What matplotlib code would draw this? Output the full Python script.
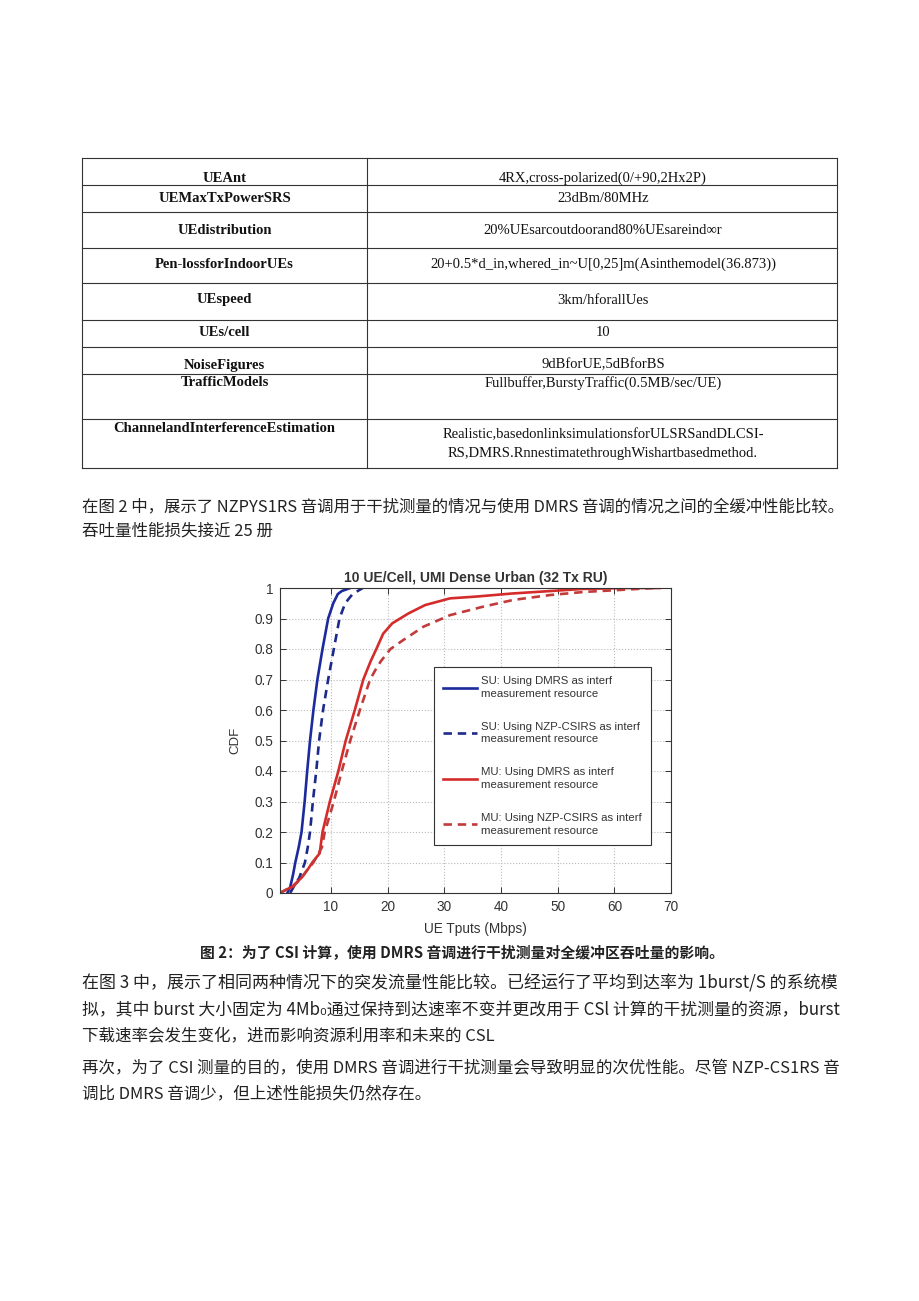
import matplotlib
matplotlib.use('Agg')
import matplotlib.pyplot as plt

# ---------------- table content ----------------
row_labels = ["UEAnt", "UEMaxTxPowerSRS", "UEdistribution", "Pen-lossforIndoorUEs",
              "UEspeed", "UEs/cell", "NoiseFigures", "TrafficModels",
              "ChannelandInterferenceEstimation"]
row_values = ["4RX,cross-polarized(0/+90,2Hx2P)", "23dBm/80MHz",
              "20%UEsarcoutdoorand80%UEsareind∞r",
              "20+0.5*d_in,whered_in~U[0,25]m(Asinthemodel(36.873))",
              "3km/hforallUes", "10", "9dBforUE,5dBforBS",
              "Fullbuffer,BurstyTraffic(0.5MB/sec/UE)",
              "Realistic,basedonlinksimulationsforULSRSandDLCSI-\nRS,DMRS.RnnestimatethroughWishartbasedmethod."]

para1 = ["在图 2 中，展示了 NZPYS1RS 音调用于干扰测量的情况与使用 DMRS 音调的情况之间的全缓冲性能比较。",
         "吞吐量性能损失接近 25 册"]
caption = "图 2：为了 CSI 计算，使用 DMRS 音调进行干扰测量对全缓冲区吞吐量的影响。"
para2 = ["在图 3 中，展示了相同两种情况下的突发流量性能比较。已经运行了平均到达率为 1burst/S 的系统模",
         "拟，其中 burst 大小固定为 4Mb₀通过保持到达速率不变并更改用于 CSl 计算的干扰测量的资源，burst",
         "下载速率会发生变化，进而影响资源利用率和未来的 CSL"]
para3 = ["再次，为了 CSI 测量的目的，使用 DMRS 音调进行干扰测量会导致明显的次优性能。尽管 NZP-CS1RS 音",
         "调比 DMRS 音调少，但上述性能损失仍然存在。"]

# ---------------- chart data ----------------
chart_title = "10 UE/Cell, UMI Dense Urban (32 Tx RU)"
x_ticks = [10, 20, 30, 40, 50, 60, 70]
y_ticks = [0, 0.1, 0.2, 0.3, 0.4, 0.5, 0.6, 0.7, 0.8, 0.9, 1.0]
y_tick_labels = ["0", "0.1", "0.2", "0.3", "0.4", "0.5", "0.6", "0.7", "0.8", "0.9", "1"]

su_dmrs_x = [2.3, 2.8, 3.3, 3.7, 4.3, 4.8, 5.35, 5.8, 6.3, 6.9, 7.6, 8.5, 9.5, 10.4, 11.2, 11.9, 13.4]
su_dmrs_y = [0.0, 0.02, 0.06, 0.10, 0.15, 0.20, 0.30, 0.40, 0.50, 0.60, 0.70, 0.80, 0.90, 0.95, 0.98, 0.99, 1.0]

su_nzp_x = [2.8, 3.4, 4.4, 5.4, 5.9, 6.3, 6.8, 7.4, 7.9, 8.6, 9.5, 10.5, 11.5, 12.5, 13.8, 15.6]
su_nzp_y = [0.0, 0.02, 0.05, 0.10, 0.15, 0.20, 0.30, 0.40, 0.50, 0.60, 0.70, 0.80, 0.90, 0.95, 0.98, 1.0]

mu_dmrs_x = [1.0, 2.0, 3.1, 4.8, 6.0, 6.7, 8.0, 8.5, 9.8, 11.3, 12.6, 14.2, 15.7, 17.0, 18.0,
             19.2, 20.8, 23.7, 26.6, 31.0, 35.7, 42.0, 48.7, 54.5, 62.0, 68.0]
mu_dmrs_y = [0.0, 0.01, 0.02, 0.05, 0.08, 0.10, 0.13, 0.20, 0.30, 0.40, 0.50, 0.60, 0.70, 0.76, 0.80,
             0.85, 0.884, 0.917, 0.944, 0.966, 0.972, 0.982, 0.99, 0.997, 1.0, 1.0]

mu_nzp_x = [1.0, 2.0, 3.3, 4.8, 6.0, 6.9, 8.4, 8.9, 10.5, 11.9, 13.4, 15.1, 16.9, 17.8, 18.8,
            20.5, 22.8, 26.3, 31.0, 36.9, 42.2, 48.7, 54.6, 60.4, 67.0]
mu_nzp_y = [0.0, 0.01, 0.02, 0.05, 0.08, 0.10, 0.15, 0.20, 0.30, 0.40, 0.50, 0.60, 0.70, 0.73, 0.76,
            0.80, 0.83, 0.873, 0.911, 0.939, 0.961, 0.977, 0.987, 0.993, 1.0]

legend_labels = ["SU: Using DMRS as interf\nmeasurement resource",
                 "SU: Using NZP-CSIRS as interf\nmeasurement resource",
                 "MU: Using DMRS as interf\nmeasurement resource",
                 "MU: Using NZP-CSIRS as interf\nmeasurement resource"]

# ---------------- figure ----------------
W, H = 920, 1301
fig = plt.figure(figsize=(W / 100, H / 100), dpi=100)
fig.patch.set_facecolor('white')

page = fig.add_axes([0, 0, 1, 1])
page.set_xlim(0, W)
page.set_ylim(H, 0)
page.axis('off')

# table geometry
t_left, t_mid, t_right = 82, 367, 837
row_lines = [158, 185, 212, 248, 283, 320, 347, 374, 419, 468]
label_y = [178, 199, 230, 264, 300, 333, 365, 383, 428]
value_y = [178, 199, 230, 264, 300, 333, 365, 383, 444]

lc = '#333333'
for y in row_lines:
    page.plot([t_left, t_right], [y, y], color=lc, lw=0.8)
for x in (t_left, t_mid, t_right):
    page.plot([x, x], [row_lines[0], row_lines[-1]], color=lc, lw=0.8)

serif = ['Liberation Serif', 'DejaVu Serif']
for lab, val, ly, vy in zip(row_labels, row_values, label_y, value_y):
    page.text((t_left + t_mid) / 2, ly, lab, ha='center', va='center',
              family=serif, fontweight='bold', fontsize=10.5, color='#111111')
    page.text((t_mid + t_right) / 2 + 1, vy, val, ha='center', va='center',
              family=serif, fontsize=10.5, color='#111111', linespacing=1.6)

cjk = ['Noto Sans CJK SC', 'DejaVu Sans']
txt_x = 82
base_fs = 11.9
renderer = fig.canvas.get_renderer()


def put_line(y, s, right=None):
    t = page.text(txt_x, y, s, ha='left', va='center', family=cjk, fontsize=base_fs,
                  color='#222222')
    if right is not None:
        w = t.get_window_extent(renderer=renderer).width
        t.set_fontsize(base_fs * (right - txt_x) / w)
    return t


put_line(507, para1[0], right=845)
put_line(531, para1[1])
page.text(462, 953, caption, ha='center', va='center', family=cjk, fontsize=10.7,
          fontweight='bold', color='#222222')
put_line(982, para2[0], right=838)
put_line(1010, para2[1], right=838)
put_line(1036, para2[2])
put_line(1068, para3[0], right=838)
put_line(1094, para3[1])

# chart axes
ax_l, ax_r, ax_t, ax_b = 280, 671, 588, 893
ax = fig.add_axes([ax_l / W, (H - ax_b) / H, (ax_r - ax_l) / W, (ax_b - ax_t) / H])
sans = ['Liberation Sans', 'DejaVu Sans']
blue = '#1c2a9e'
blue_d = '#1e2a8a'
red = '#d42b2b'
red_d = '#c23a3a'
lw = 1.9
ax.plot(su_dmrs_x, su_dmrs_y, color=blue, lw=lw, label=legend_labels[0])
ax.plot(su_nzp_x, su_nzp_y, color=blue_d, lw=lw, dashes=(3.2, 2.2), label=legend_labels[1])
ax.plot(mu_dmrs_x, mu_dmrs_y, color=red, lw=lw, label=legend_labels[2])
ax.plot(mu_nzp_x, mu_nzp_y, color=red_d, lw=lw, dashes=(3.2, 2.2), label=legend_labels[3])

ax.set_xlim(1, 70)
ax.set_ylim(0, 1)
ax.set_xticks(x_ticks)
ax.set_yticks(y_ticks)
ax.set_yticklabels(y_tick_labels)
ax.grid(True, linestyle=':', color='#bbbbbb', lw=0.8)
ax.tick_params(direction='in', length=4, width=0.7, top=True, right=True,
               colors='#333333', labelsize=9.8, pad=5)
for lab in ax.get_xticklabels() + ax.get_yticklabels():
    lab.set_family(sans)
for s in ax.spines.values():
    s.set_color('#333333')
    s.set_linewidth(0.8)
ax.set_title(chart_title, family=sans, fontweight='bold', fontsize=10, color='#333333', pad=4)
ax.set_xlabel("UE Tputs (Mbps)", family=sans, fontsize=9.8, color='#333333')
ax.set_ylabel("CDF", family=sans, fontsize=9.5, color='#333333')
ax.xaxis.set_label_coords(0.5, -0.095)
ax.yaxis.set_label_coords(-0.1, 0.5)

leg = ax.legend(loc='upper left', bbox_to_anchor=(0.394, 0.741), borderaxespad=0,
                prop={'family': sans, 'size': 8.2}, handlelength=3.0, handletextpad=0.35,
                labelspacing=2.0, borderpad=0.8, fancybox=False, framealpha=1,
                edgecolor='#333333')
leg.get_frame().set_linewidth(0.8)
for t in leg.get_texts():
    t.set_color('#333333')
    t.set_linespacing(1.35)

fig.savefig('out.png', dpi=100, facecolor='white')
